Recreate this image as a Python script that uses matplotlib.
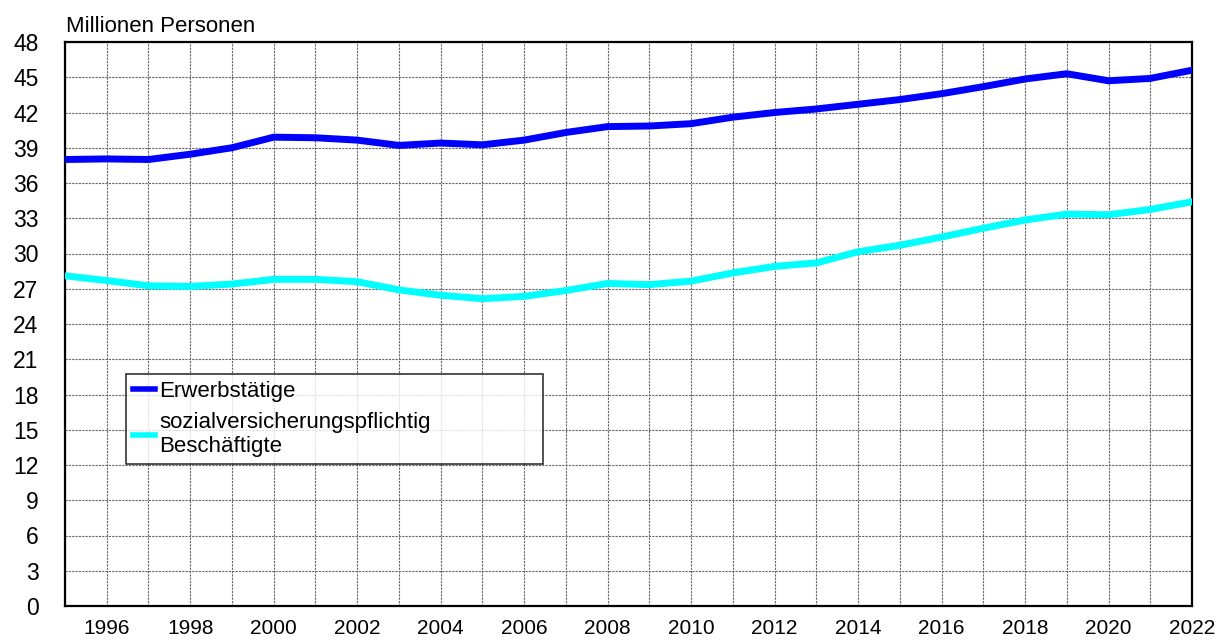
import matplotlib
matplotlib.use("Agg")
import matplotlib.pyplot as plt
import numpy as np

plt.rcParams['font.family'] = ['Liberation Sans', 'DejaVu Sans']

years = list(range(1995, 2023))
erwerbstaetige = [38.0, 38.05, 38.0, 38.45, 39.0, 39.9, 39.85, 39.65, 39.2, 39.4,
                  39.25, 39.65, 40.3, 40.8, 40.85, 41.05, 41.6, 42.0, 42.3, 42.7,
                  43.1, 43.6, 44.2, 44.85, 45.3, 44.7, 44.9, 45.6]
sv_beschaeftigte = [28.1, 27.7, 27.25, 27.2, 27.4, 27.8, 27.8, 27.6, 26.9, 26.45,
                    26.15, 26.35, 26.85, 27.45, 27.35, 27.65, 28.35, 28.9, 29.2, 30.15,
                    30.7, 31.4, 32.15, 32.85, 33.35, 33.3, 33.75, 34.4]
labels = ['Erwerbstätige', 'sozialversicherungspflichtig\nBeschäftigte']
colors = ['#0000FF', '#00FFFF']
y_ticks = list(range(0, 49, 3))

fig = plt.figure(figsize=(12.23, 6.41), dpi=100)
ax = fig.add_axes([65 / 1223, 35 / 641, 1127 / 1223, 564 / 641])

ax.plot(years, erwerbstaetige, color=colors[0], lw=5, label=labels[0],
        solid_joinstyle='round', zorder=3)
ax.plot(years, sv_beschaeftigte, color=colors[1], lw=5, label=labels[1],
        solid_joinstyle='round', zorder=3)

ax.set_xlim(1995, 2022)
ax.set_ylim(0, 48)
ax.set_xticks(years)
ax.set_xticklabels([str(y) if y % 2 == 0 else '' for y in years], fontsize=15)
ax.set_yticks(y_ticks)
ax.set_yticklabels([str(v) for v in y_ticks], fontsize=16.5)
ax.tick_params(axis='both', length=0)
ax.tick_params(axis='x', pad=9)
ax.tick_params(axis='y', pad=19)

ax.grid(True, color='#666666', lw=0.8, linestyle=(0, (2, 1)), zorder=1)
ax.set_axisbelow(True)
for sp in ax.spines.values():
    sp.set_color('black')
    sp.set_linewidth(1.6)

leg = ax.legend(loc='upper left', bbox_to_anchor=(0.054, 0.411, 0.37, 0.0),
                mode='expand', fontsize=16, frameon=True, fancybox=False,
                edgecolor='black', handlelength=1.0, handletextpad=0.2,
                borderpad=0.3, labelspacing=0.45, borderaxespad=0)
leg.get_frame().set_linewidth(1.2)
for h in leg.get_lines():
    h.set_linewidth(4)

fig.text(66 / 1223, 1 - 32 / 641, 'Millionen Personen', fontsize=16, va='baseline')

fig.savefig('out.png', dpi=100)
